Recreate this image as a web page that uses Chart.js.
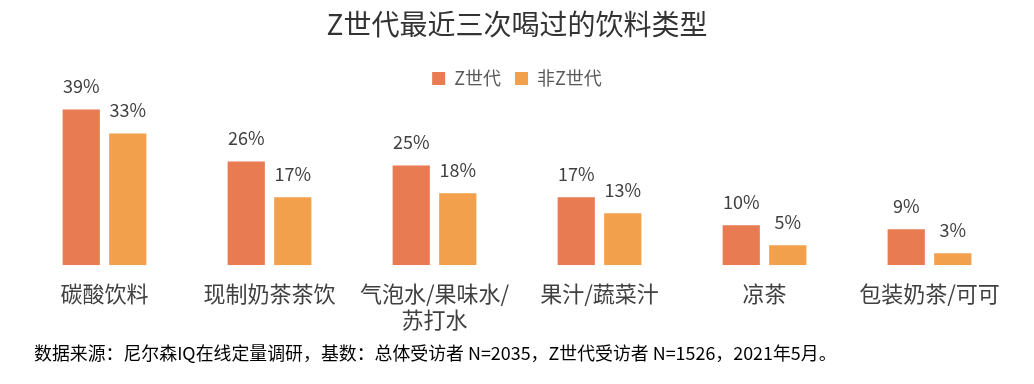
<!DOCTYPE html>
<html>
<head>
<meta charset="utf-8">
<script src="https://cdn.jsdelivr.net/npm/chart.js@4"></script>
<style>
  html, body { margin: 0; padding: 0; background: #fff; }
  #wrap { width: 1034px; height: 384px; position: relative; }
</style>
</head>
<body>
<div id="wrap"><canvas id="drinkChart"></canvas></div>
<script>
const categories = ['碳酸饮料', '现制奶茶茶饮', ['气泡水/果味水/', '苏打水'], '果汁/蔬菜汁', '凉茶', '包装奶茶/可可'];
const genZ = [39, 26, 25, 17, 10, 9];
const nonGenZ = [33, 17, 18, 13, 5, 3];
const seriesNames = ['Z世代', '非Z世代'];
const footnote = '数据来源：尼尔森IQ在线定量调研，基数：总体受访者 N=2035，Z世代受访者 N=1526，2021年5月。';

const fontFamily = '"Noto Sans CJK SC", "Noto Sans", sans-serif';

// value labels above each bar + source line at the bottom
const labelPlugin = {
    id: 'valueLabels',
    afterDatasetsDraw(chart) {
        const ctx = chart.ctx;
        ctx.save();
        ctx.font = '18px ' + fontFamily;
        ctx.fillStyle = '#404040';
        ctx.textAlign = 'center';
        ctx.textBaseline = 'middle';
        chart.data.datasets.forEach((ds, i) => {
            chart.getDatasetMeta(i).data.forEach((bar, j) => {
                ctx.fillText(ds.data[j] + '%', bar.x, bar.y - 23);
            });
        });
        ctx.font = '17.9px ' + fontFamily;
        ctx.fillStyle = '#000';
        ctx.textAlign = 'left';
        ctx.fillText(footnote, 34, 353);
        ctx.restore();
    }
};

new Chart(document.querySelector('#drinkChart'), {
    type: 'bar',
    data: {
        labels: categories,
        datasets: [{
            label: seriesNames[0],
            data: genZ,
            backgroundColor: '#E97B53'
        }, {
            label: seriesNames[1],
            data: nonGenZ,
            backgroundColor: '#F2A04B'
        }]
    },
    options: {
        responsive: true,
        maintainAspectRatio: false,
        animation: false,
        categoryPercentage: 0.564,
        barPercentage: 0.8,
        layout: {
            padding: { left: 22, right: 22, top: 8, bottom: 44 }
        },
        plugins: {
            title: {
                display: true,
                text: 'Z世代最近三次喝过的饮料类型',
                color: '#333333',
                font: { family: fontFamily, size: 28, weight: 'normal' },
                padding: { top: 0, bottom: 14 }
            },
            legend: {
                display: true,
                labels: {
                    color: '#595959',
                    font: { family: fontFamily, size: 18 },
                    boxWidth: 13,
                    boxHeight: 13,
                    padding: 14
                }
            },
            tooltip: { enabled: false }
        },
        scales: {
            y: {
                display: false,
                beginAtZero: true,
                max: 42
            },
            x: {
                grid: { display: false },
                border: { display: false },
                ticks: {
                    color: '#404040',
                    font: { family: fontFamily, size: 22, lineHeight: 1.2 },
                    maxRotation: 0,
                    autoSkip: false,
                    padding: 7
                }
            }
        }
    },
    plugins: [labelPlugin]
});
</script>
</body>
</html>
